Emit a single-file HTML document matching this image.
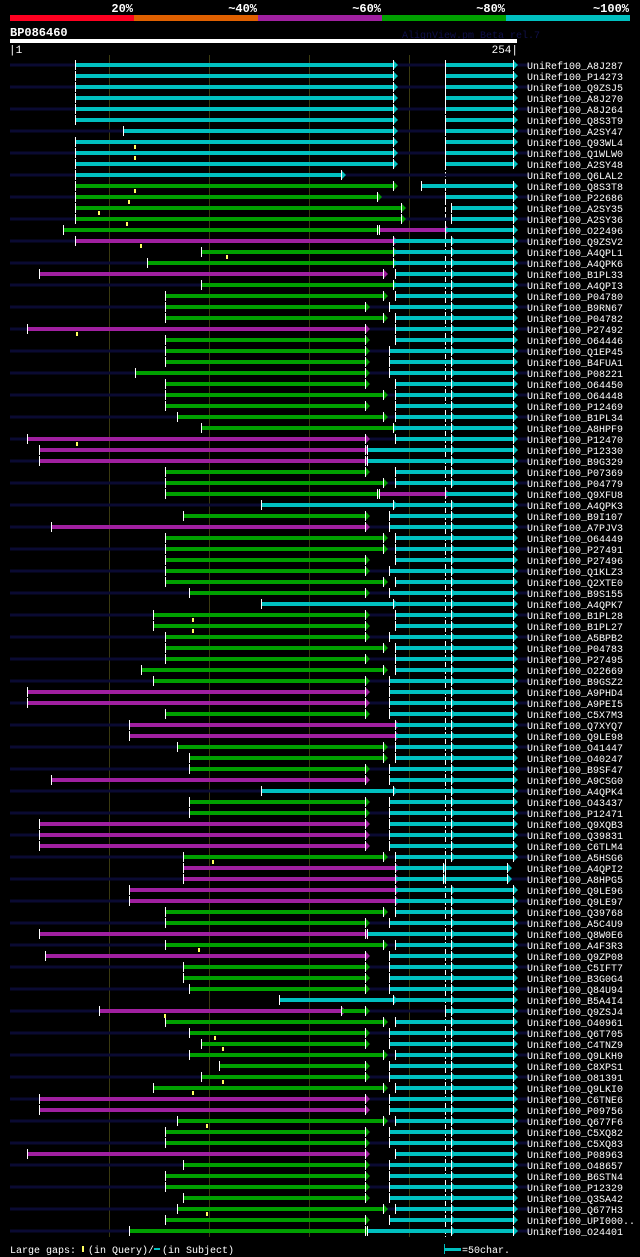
<!DOCTYPE html>
<html><head><meta charset="utf-8">
<style>
html,body{margin:0;padding:0;background:#000;}
svg{display:block;}
text{font-family:"Liberation Mono",monospace;}
</style></head>
<body>
<svg id="chart" width="640" height="1257" viewBox="0 0 640 1257" xmlns="http://www.w3.org/2000/svg">
<rect x="0" y="0" width="640" height="1257" fill="#000"/>
<g>
<rect x="10" y="15" width="124" height="6" fill="#ff0020"/>
<rect x="134" y="15" width="124" height="6" fill="#e06000"/>
<rect x="258" y="15" width="124" height="6" fill="#a020a0"/>
<rect x="382" y="15" width="124" height="6" fill="#00a000"/>
<rect x="506" y="15" width="124" height="6" fill="#00c0c0"/>
<text x="133" y="12" fill="#fff" font-size="12" font-weight="bold" text-anchor="end">20%</text>
<text x="257" y="12" fill="#fff" font-size="12" font-weight="bold" text-anchor="end">~40%</text>
<text x="381" y="12" fill="#fff" font-size="12" font-weight="bold" text-anchor="end">~60%</text>
<text x="505" y="12" fill="#fff" font-size="12" font-weight="bold" text-anchor="end">~80%</text>
<text x="629" y="12" fill="#fff" font-size="12" font-weight="bold" text-anchor="end">~100%</text>
</g>
<text x="10" y="36" fill="#fff" font-size="12" font-weight="bold">BP086460</text>
<text x="402" y="38" fill="#10104a" font-size="10">AlignView.pm Beta rel.7</text>
<rect x="10" y="39" width="507" height="4" fill="#fff"/>
<text x="9" y="53" fill="#fff" font-size="11">|1</text>
<text x="518" y="53" fill="#fff" font-size="11" text-anchor="end">254|</text>
<g id="grid"></g>
<g id="rows"></g>
<g>
<text x="10" y="1253" fill="#fff" font-size="10">Large gaps:</text>
<rect x="82" y="1246" width="2" height="6" fill="#ffff60"/>
<text x="88" y="1253" fill="#fff" font-size="10">(in Query)/</text>
<rect x="154" y="1248" width="6" height="2" fill="#00c0c0"/>
<text x="162" y="1253" fill="#fff" font-size="10">(in Subject)</text>
<rect x="445" y="1248" width="16" height="3" fill="#00c0c0"/>
<rect x="444" y="1244" width="1" height="10" fill="#00c0c0"/>
<text x="462" y="1253" fill="#fff" font-size="10">=50char.</text>
</g>
</svg>
<script>
const gridTicks = [50, 100, 150, 200];
const names = ["A8J287","P14273","Q9ZSJ5","A8J270","A8J264","Q8S3T9","A2SY47","Q93WL4","Q1WLW0","A2SY48","Q6LAL2","Q8S3T8","P22686","A2SY35","A2SY36","O22496","Q9ZSV2","A4QPL1","A4QPK6","B1PL33","A4QPI3","P04780","B9RN67","P04782","P27492","O64446","Q1EP45","B4FUA1","P08221","O64450","O64448","P12469","B1PL34","A8HPF9","P12470","P12330","B9G329","P07369","P04779","Q9XFU8","A4QPK3","B9I107","A7PJV3","O64449","P27491","P27496","Q1KLZ3","Q2XTE0","B9S155","A4QPK7","B1PL28","B1PL27","A5BPB2","P04783","P27495","O22669","B9GSZ2","A9PHD4","A9PEI5","C5X7M3","Q7XYQ7","Q9LE98","O41447","O40247","B9SF47","A9CSG0","A4QPK4","O43437","P12471","Q9XQB3","Q39831","C6TLM4","A5HSG6","A4QPI2","A8HPG5","Q9LE96","Q9LE97","Q39768","A5C4U9","Q8W0E6","A4F3R3","Q9ZP08","C5IFT7","B3G0G4","Q84U94","B5A4I4","Q9ZSJ4","O40961","Q6T705","C4TNZ9","Q9LKH9","C8XPS1","O81391","Q9LKI0","C6TNE6","P09756","Q677F6","C5XQ82","C5XQ83","P08963","O48657","B6STN4","P12329","Q3SA42","Q677H3","UPI000..","O24401"];
const hits = [
[[33,192,'c'],[218,252,'c']],
[[33,192,'c'],[218,252,'c']],
[[33,192,'c'],[218,252,'c']],
[[33,192,'c'],[218,252,'c']],
[[33,192,'c'],[218,252,'c']],
[[33,192,'c'],[218,252,'c']],
[[57,192,'c'],[218,252,'c']],
[[33,192,'c'],[218,252,'c']],
[[33,192,'c'],[218,252,'c']],
[[33,192,'c'],[218,252,'c']],
[[33,166,'c']],
[[33,192,'g'],[206,252,'c']],
[[33,184,'g'],[218,252,'c']],
[[33,196,'g'],[221,252,'c']],
[[33,196,'g'],[221,252,'c']],
[[27,184,'g'],[185,218,'m'],[218,252,'c']],
[[33,192,'m'],[192,221,'c'],[221,252,'c']],
[[96,192,'g'],[192,221,'c'],[221,252,'c']],
[[69,192,'g'],[192,221,'c'],[221,252,'c']],
[[15,187,'m'],[193,221,'c'],[221,252,'c']],
[[96,192,'g'],[192,221,'c'],[221,252,'c']],
[[78,187,'g'],[193,221,'c'],[221,252,'c']],
[[78,178,'g'],[190,221,'c'],[221,252,'c']],
[[78,187,'g'],[193,221,'c'],[221,252,'c']],
[[9,178,'m'],[193,221,'c'],[221,252,'c']],
[[78,178,'g'],[193,221,'c'],[221,252,'c']],
[[78,178,'g'],[190,221,'c'],[221,252,'c']],
[[78,178,'g'],[190,221,'c'],[221,252,'c']],
[[63,178,'g'],[190,221,'c'],[221,252,'c']],
[[78,178,'g'],[193,221,'c'],[221,252,'c']],
[[78,187,'g'],[193,221,'c'],[221,252,'c']],
[[78,178,'g'],[193,221,'c'],[221,252,'c']],
[[84,187,'g'],[193,221,'c'],[221,252,'c']],
[[96,192,'g'],[192,221,'c'],[221,252,'c']],
[[9,178,'m'],[193,221,'c'],[221,252,'c']],
[[15,178,'m'],[179,221,'c'],[221,252,'c']],
[[15,178,'m'],[179,221,'c'],[221,252,'c']],
[[78,178,'g'],[193,221,'c'],[221,252,'c']],
[[78,187,'g'],[193,221,'c'],[221,252,'c']],
[[78,184,'g'],[185,218,'m'],[218,252,'c']],
[[126,192,'c'],[192,221,'c'],[221,252,'c']],
[[87,178,'g'],[190,221,'c'],[221,252,'c']],
[[21,178,'m'],[190,221,'c'],[221,252,'c']],
[[78,187,'g'],[193,221,'c'],[221,252,'c']],
[[78,187,'g'],[193,221,'c'],[221,252,'c']],
[[78,178,'g'],[193,221,'c'],[221,252,'c']],
[[78,178,'g'],[190,221,'c'],[221,252,'c']],
[[78,187,'g'],[193,221,'c'],[221,252,'c']],
[[90,178,'g'],[190,221,'c'],[221,252,'c']],
[[126,192,'c'],[192,221,'c'],[221,252,'c']],
[[72,178,'g'],[193,221,'c'],[221,252,'c']],
[[72,178,'g'],[193,221,'c'],[221,252,'c']],
[[78,178,'g'],[190,221,'c'],[221,252,'c']],
[[78,187,'g'],[193,221,'c'],[221,252,'c']],
[[78,178,'g'],[193,221,'c'],[221,252,'c']],
[[66,187,'g'],[193,221,'c'],[221,252,'c']],
[[72,178,'g'],[190,221,'c'],[221,252,'c']],
[[9,178,'m'],[190,221,'c'],[221,252,'c']],
[[9,178,'m'],[190,221,'c'],[221,252,'c']],
[[78,178,'g'],[190,221,'c'],[221,252,'c']],
[[60,193,'m'],[193,221,'c'],[221,252,'c']],
[[60,193,'m'],[193,221,'c'],[221,252,'c']],
[[84,187,'g'],[193,221,'c'],[221,252,'c']],
[[90,187,'g'],[193,221,'c'],[221,252,'c']],
[[90,178,'g'],[190,221,'c'],[221,252,'c']],
[[21,178,'m'],[190,221,'c'],[221,252,'c']],
[[126,192,'c'],[192,221,'c'],[221,252,'c']],
[[90,178,'g'],[190,221,'c'],[221,252,'c']],
[[90,178,'g'],[190,221,'c'],[221,252,'c']],
[[15,178,'m'],[190,221,'c'],[221,252,'c']],
[[15,178,'m'],[190,221,'c'],[221,252,'c']],
[[15,178,'m'],[190,221,'c'],[221,252,'c']],
[[87,187,'g'],[193,221,'c'],[221,252,'c']],
[[87,193,'m'],[193,217,'c'],[218,249,'c']],
[[87,193,'m'],[193,217,'c'],[218,249,'c']],
[[60,193,'m'],[193,221,'c'],[221,252,'c']],
[[60,193,'m'],[193,221,'c'],[221,252,'c']],
[[78,187,'g'],[193,221,'c'],[221,252,'c']],
[[78,178,'g'],[190,221,'c'],[221,252,'c']],
[[15,178,'m'],[179,221,'c'],[221,252,'c']],
[[78,187,'g'],[193,221,'c'],[221,252,'c']],
[[18,178,'m'],[190,221,'c'],[221,252,'c']],
[[87,178,'g'],[190,221,'c'],[221,252,'c']],
[[87,178,'g'],[190,221,'c'],[221,252,'c']],
[[90,178,'g'],[190,221,'c'],[221,252,'c']],
[[135,192,'c'],[192,221,'c'],[221,252,'c']],
[[45,166,'m'],[166,178,'g'],[218,221,'c'],[221,252,'c']],
[[78,187,'g'],[193,221,'c'],[221,252,'c']],
[[90,178,'g'],[190,221,'c'],[221,252,'c']],
[[96,178,'g'],[190,221,'c'],[221,252,'c']],
[[90,187,'g'],[193,221,'c'],[221,252,'c']],
[[105,178,'g'],[190,221,'c'],[221,252,'c']],
[[96,178,'g'],[190,221,'c'],[221,252,'c']],
[[72,187,'g'],[193,221,'c'],[221,252,'c']],
[[15,178,'m'],[190,221,'c'],[221,252,'c']],
[[15,178,'m'],[190,221,'c'],[221,252,'c']],
[[84,187,'g'],[193,221,'c'],[221,252,'c']],
[[78,178,'g'],[190,221,'c'],[221,252,'c']],
[[78,178,'g'],[190,221,'c'],[221,252,'c']],
[[9,178,'m'],[193,221,'c'],[221,252,'c']],
[[87,178,'g'],[190,221,'c'],[221,252,'c']],
[[78,178,'g'],[190,221,'c'],[221,252,'c']],
[[78,178,'g'],[190,221,'c'],[221,252,'c']],
[[87,178,'g'],[190,221,'c'],[221,252,'c']],
[[84,187,'g'],[193,221,'c'],[221,252,'c']],
[[78,178,'g'],[190,221,'c'],[221,252,'c']],
[[60,178,'g'],[179,221,'c'],[221,252,'c']]
];
const gapRows = [7,8,11,12,13,14,16,17,24,34,50,51,72,80,86,88,89,92,93,96,104];
const gapPos  = [63,63,63,60,45,59,66,109,34,34,92,92,102,95,78,103,107,107,92,99,99];

const NS = "http://www.w3.org/2000/svg";
const colors = {c:"#00c0c0", g:"#00a000", m:"#a020a0"};
function xs(r){ return 9 + 2*r; }
function ys(i){ return 65 + 11*i; }
function mk(tag, attrs, parent){
  const e = document.createElementNS(NS, tag);
  for (const k in attrs) e.setAttribute(k, attrs[k]);
  parent.appendChild(e);
  return e;
}
const grid = document.getElementById('grid');
gridTicks.forEach(t => {
  const l = mk('line', {x1:xs(t)+0.5, x2:xs(t)+0.5, y1:55, y2:1237, stroke:'#3a3a10', 'stroke-width':1}, grid);
  
  
});
const dl = mk('line', {x1:xs(218)+0.5, x2:xs(218)+0.5, y1:60, y2:1237, stroke:'#fff', 'stroke-width':1, 'stroke-dasharray':'5,2'}, grid);



const rowsG = document.getElementById('rows');
names.forEach((nm, i) => {
  const y = ys(i);
  const g = mk('g', {}, rowsG);
  
  
  if (i % 2 === 0) {
    const z = mk('rect', {x:10, y:y-1.5, width:520, height:3, fill:'#0a0a32'}, g);
    
    
  }
  (hits[i] || []).forEach(h => {
    const x1 = xs(h[0]), x2 = xs(h[1]), col = colors[h[2]];
    const b = mk('rect', {x:x1, y:y-2, width:Math.max(1, x2-x1), height:4, fill:col}, g);
    
    
    const a = mk('polygon', {points:(x2)+','+(y-5)+' '+(x2+5)+','+y+' '+(x2)+','+(y+5), fill:col}, g);
    
    
    const t1 = mk('rect', {x:x1, y:y-5, width:1, height:10, fill:'#fff'}, g);
    
    
    const t2 = mk('rect', {x:x2, y:y-5, width:1, height:10, fill:'#fff'}, g);
    
    
  });
  const tx = mk('text', {x:527, y:y+4, fill:'#fff', 'font-size':10}, g);
  tx.textContent = 'UniRef100_' + nm;
  
  
});
gapRows.forEach((ri, k) => {
  const x = xs(gapPos[k]), y = ys(ri);
  const m = mk('rect', {x:x-1, y:y+3, width:2, height:4, fill:'#ffff60'}, rowsG);
  
  
});
</script>
</body></html>
